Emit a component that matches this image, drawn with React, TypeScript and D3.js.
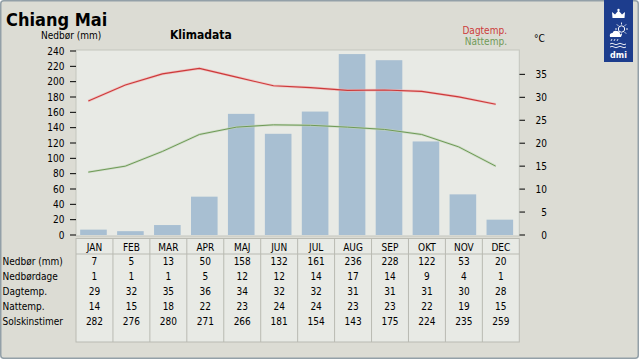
import React from "react";
import * as d3 from "d3";

const months = ["JAN", "FEB", "MAR", "APR", "MAJ", "JUN", "JUL", "AUG", "SEP", "OKT", "NOV", "DEC"];
const precip = [7, 5, 13, 50, 158, 132, 161, 236, 228, 122, 53, 20];
const rainDays = [1, 1, 1, 5, 12, 12, 14, 17, 14, 9, 4, 1];
const dayTemp = [29, 32, 35, 36, 34, 32, 32, 31, 31, 31, 30, 28];
const nightTemp = [14, 15, 18, 22, 23, 24, 24, 23, 23, 22, 19, 15];
const sunHours = [282, 276, 280, 271, 266, 181, 154, 143, 175, 224, 235, 259];
// line values as drawn (unrounded estimates)
const dayLine = [29.2, 32.7, 35.1, 36.3, 34.4, 32.5, 32.1, 31.5, 31.6, 31.3, 30.1, 28.5];
const nightLine = [13.7, 15.0, 18.2, 21.9, 23.5, 24.0, 23.9, 23.5, 23.0, 21.9, 19.2, 15.0];
const rowLabels = ["Nedbør (mm)", "Nedbørdage", "Dagtemp.", "Nattemp.", "Solskinstimer"];
const leftTicks = [0, 20, 40, 60, 80, 100, 120, 140, 160, 180, 200, 220, 240];
const rightTicks = [0, 5, 10, 15, 20, 25, 30, 35];

const FONT = "'DejaVu Sans Condensed', 'DejaVu Sans', sans-serif";
const BG = "#dcdcd4";
const PLOT_BG = "#e8eae5";
const BAR = "#a8bfd2";
const RED = "#cc3a3a";
const GREEN = "#6f9a58";
const GRID = "#b9bab2";

export default function App() {
  const plotL = 76, plotR = 519.3, plotT = 50, plotB = 235;
  const x = d3.scaleBand<string>().domain(months).range([plotL, plotR]).padding(0);
  const xLine = d3.scalePoint<string>().domain(months).range([88.3, 495.7]);
  const yL = d3.scaleLinear().domain([0, 240]).range([235, 51]);
  const yR = d3.scaleLinear().domain([0, 40]).range([235, 51.4]);
  const barW = x.bandwidth() * 0.72;

  const lineGen = (vals: number[]) =>
    d3.line<number>().x((_, i) => xLine(months[i]) as number).y((v) => yR(v))(vals) as string;

  const tableTop = 238.5, headerB = 254, tableB = 342;
  const rows = [precip, rainDays, dayTemp, nightTemp, sunHours];

  return (
    <svg width={640} height={360} style={{ position: "absolute", left: 0, top: 0, display: "block" }}
      fontFamily={FONT}>
      <rect x={0.75} y={0.75} width={637.5} height={357.5} rx={3} fill={BG} stroke="#93a0a8" strokeWidth={1.5} />

      {/* title */}
      <text x={6} y={25.5} fontSize={18} fontWeight="bold" fill="#000">Chiang Mai</text>
      <text x={41} y={39} fontSize={10} fill="#000">Nedbør (mm)</text>
      <text x={170} y={38.7} fontSize={12} fontWeight="bold" fill="#000">Klimadata</text>
      <text x={507} y={34.3} fontSize={10} fill={RED} textAnchor="end">Dagtemp.</text>
      <text x={507} y={45} fontSize={10} fill={GREEN} textAnchor="end">Nattemp.</text>
      <text x={534} y={42} fontSize={10} fill="#000">°C</text>

      {/* DMI logo */}
      <g>
        <rect x={604} y={0} width={29} height={62} fill="#1d3d8d" />
        <path d="M612.5,18 L612,12 L615,14.5 L618.5,10.5 L622,14.5 L625,12 L624.5,18 Z" fill="#fff" />
        <circle cx={618.5} cy={10} r={1.2} fill="#fff" />
        <circle cx={621.5} cy={29} r={3.2} fill="none" stroke="#fff" strokeWidth={1} />
        {[0, 45, 90, 135, 180, 225, 270, 315].map((a) => {
          const r = (a * Math.PI) / 180;
          return (
            <line key={a} x1={621.5 + Math.cos(r) * 4.5} y1={29 + Math.sin(r) * 4.5}
              x2={621.5 + Math.cos(r) * 6.5} y2={29 + Math.sin(r) * 6.5} stroke="#fff" strokeWidth={0.9} />
          );
        })}
        <path d="M610,37 Q609,33 612.5,33 Q613.5,30 617,31 Q620,31 620,34 Q622,34.5 621,37 Z" fill="#fff" />
        <line x1={612} y1={39} x2={611} y2={41} stroke="#fff" strokeWidth={0.8} />
        <line x1={615} y1={39} x2={614} y2={41} stroke="#fff" strokeWidth={0.8} />
        <line x1={618} y1={39} x2={617} y2={41} stroke="#fff" strokeWidth={0.8} />
        <path d="M610,44 q2,-1.5 4,0 q2,1.5 4,0 q2,-1.5 4,0 q2,1.5 4,0" fill="none" stroke="#fff" strokeWidth={0.9} />
        <path d="M610,47 q2,-1.5 4,0 q2,1.5 4,0 q2,-1.5 4,0 q2,1.5 4,0" fill="none" stroke="#fff" strokeWidth={0.9} />
        <text x={618.5} y={57.5} fontSize={8} fontWeight="bold" fill="#fff" textAnchor="middle"
          fontFamily="'DejaVu Sans', sans-serif">dmi</text>
      </g>

      {/* plot area */}
      <rect x={plotL} y={plotT} width={plotR - plotL} height={plotB - plotT + 1} fill={PLOT_BG} stroke="#c4c6be" strokeWidth={1} />

      {/* bars */}
      {precip.map((v, i) => {
        const cx = (x(months[i]) as number) + x.bandwidth() / 2 - 1;
        return <rect key={i} x={cx - barW / 2} y={yL(v)} width={barW} height={yL(0) - yL(v)} fill={BAR} />;
      })}

      {/* lines */}
      <path d={lineGen(dayLine)} fill="none" stroke="#f2b4b4" strokeWidth={2.6} strokeOpacity={0.7} />
      <path d={lineGen(dayLine)} fill="none" stroke={RED} strokeWidth={1.1} />
      <path d={lineGen(nightLine)} fill="none" stroke="#c2d6b6" strokeWidth={2.4} strokeOpacity={0.7} />
      <path d={lineGen(nightLine)} fill="none" stroke={GREEN} strokeWidth={1} />

      {/* left axis */}
      {leftTicks.map((t) => (
        <g key={t}>
          <line x1={70} x2={76} y1={yL(t)} y2={yL(t)} stroke="#000" strokeWidth={1} />
          <text x={64.5} y={yL(t)} dy="0.35em" fontSize={10} textAnchor="end" fill="#000">{t}</text>
        </g>
      ))}

      {/* right axis */}
      {rightTicks.map((t) => (
        <g key={t}>
          <line x1={519.5} x2={525} y1={yR(t)} y2={yR(t)} stroke="#000" strokeWidth={1} />
          <text x={547} y={yR(t)} dy="0.35em" fontSize={10} textAnchor="end" fill="#000">{t}</text>
        </g>
      ))}

      {/* table */}
      <rect x={plotL} y={tableTop} width={plotR - plotL} height={tableB - tableTop} fill={PLOT_BG} stroke={GRID} strokeWidth={1} />
      <line x1={plotL} x2={plotR} y1={headerB} y2={headerB} stroke={GRID} strokeWidth={1} />
      {months.map((m, i) =>
        i > 0 ? (
          <line key={m} x1={x(m) as number} x2={x(m) as number} y1={tableTop} y2={tableB} stroke={GRID} strokeWidth={1} />
        ) : null
      )}
      {months.map((m) => (
        <text key={m} x={(x(m) as number) + x.bandwidth() / 2} y={250.7} fontSize={10} textAnchor="middle" fill="#000">{m}</text>
      ))}
      {rowLabels.map((lab, r) => (
        <text key={lab} x={2.5} y={265 + r * 15} fontSize={10} fill="#000">{lab}</text>
      ))}
      {rows.map((vals, r) =>
        vals.map((v, i) => (
          <text key={`${r}-${i}`} x={(x(months[i]) as number) + x.bandwidth() / 2} y={265 + r * 15}
            fontSize={10} textAnchor="middle" fill="#000">{v}</text>
        ))
      )}
    </svg>
  );
}
